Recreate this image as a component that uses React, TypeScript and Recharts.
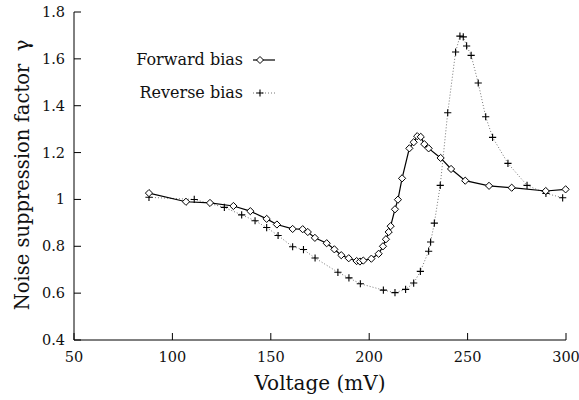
import React from 'react';
import { LineChart, Line, XAxis, YAxis, Legend } from 'recharts';

const forwardV = [88.1, 106.9, 119.1, 131, 139.6, 147.9, 153.1, 161.1, 166.2, 168.8, 172.4, 178.4, 182.3, 185.8, 189.6, 193.6, 195.3, 197, 201.1, 204.8, 207, 208.5, 209.9, 210.9, 213.1, 214.6, 216.7, 220.4, 222.6, 224.4, 226.2, 228, 230.2, 236.3, 241.6, 248.8, 260.9, 272.4, 289.7, 299.8];
const forwardG = [1.027, 0.99, 0.985, 0.972, 0.95, 0.917, 0.893, 0.874, 0.873, 0.861, 0.836, 0.813, 0.787, 0.762, 0.749, 0.737, 0.735, 0.739, 0.747, 0.768, 0.8, 0.83, 0.861, 0.886, 0.958, 0.999, 1.09, 1.218, 1.244, 1.27, 1.267, 1.236, 1.218, 1.177, 1.13, 1.08, 1.058, 1.05, 1.036, 1.043];

const reverseV = [88.1, 111.1, 126.4, 135.2, 142, 147.9, 153.7, 161.1, 166.6, 172.5, 184.1, 189.7, 195.5, 207.2, 213.1, 218.5, 222.6, 226, 230.2, 231.2, 233.1, 236.1, 239.9, 243.9, 246.1, 247.8, 249.5, 251.8, 255.4, 259.2, 262.7, 270.5, 280.2, 289.8, 298.3];
const reverseG = [1.009, 1.0, 0.966, 0.934, 0.909, 0.88, 0.846, 0.798, 0.786, 0.75, 0.689, 0.665, 0.64, 0.613, 0.602, 0.616, 0.643, 0.693, 0.779, 0.818, 0.899, 1.06, 1.37, 1.629, 1.697, 1.694, 1.655, 1.615, 1.497, 1.353, 1.265, 1.154, 1.06, 1.026, 1.007];

const xTicks = [50, 100, 150, 200, 250, 300];
const xInnerTicks = [100, 150, 200, 250];
const yTicks = [0.4, 0.6, 0.8, 1, 1.2, 1.4, 1.6, 1.8];
const yInnerTicks = [0.6, 0.8, 1, 1.2, 1.4, 1.6];
const seriesNames = ['Forward bias', 'Reverse bias'];

const forwardData = forwardV.map((v, i) => ({ v, g: forwardG[i] }));
const reverseData = reverseV.map((v, i) => ({ v, g: reverseG[i] }));

const FONT = '"DejaVu Serif", serif';
const TICK_LEN = 7;

const BottomTick = (props: any) => {
  const { x, y, payload } = props;
  return (
    <g>
      <line x1={x} x2={x} y1={y} y2={y - TICK_LEN} stroke="#000" strokeWidth={1} />
      <text x={x} y={y + 22} textAnchor="middle" fontFamily={FONT} fontSize={14.5} fill="#111">
        {payload.value}
      </text>
    </g>
  );
};

const TopTick = (props: any) => {
  const { x, y } = props;
  return <line x1={x} x2={x} y1={y} y2={y + TICK_LEN} stroke="#000" strokeWidth={1} />;
};

const LeftTick = (props: any) => {
  const { x, y, payload } = props;
  return (
    <g>
      <line x1={x} x2={x + TICK_LEN} y1={y} y2={y} stroke="#000" strokeWidth={1} />
      <text x={x - 9} y={y + 5} textAnchor="end" fontFamily={FONT} fontSize={14.5} fill="#111">
        {String(payload.value)}
      </text>
    </g>
  );
};

const RightTick = (props: any) => {
  const { x, y } = props;
  return <line x1={x} x2={x - TICK_LEN} y1={y} y2={y} stroke="#000" strokeWidth={1} />;
};

const Diamond = (props: any) => {
  const { cx, cy, index } = props;
  if (cx == null || cy == null) return <g key={`d-${index}`} />;
  const r = 3.6;
  return (
    <path
      key={`d-${index}`}
      d={`M${cx},${cy - r} L${cx + r},${cy} L${cx},${cy + r} L${cx - r},${cy} Z`}
      fill="#fff"
      stroke="#000"
      strokeWidth={1}
    />
  );
};

const Plus = (props: any) => {
  const { cx, cy, index } = props;
  if (cx == null || cy == null) return <g key={`p-${index}`} />;
  const r = 3.6;
  return (
    <path
      key={`p-${index}`}
      d={`M${cx - r},${cy} L${cx + r},${cy} M${cx},${cy - r} L${cx},${cy + r}`}
      stroke="#000"
      strokeWidth={1.1}
      fill="none"
    />
  );
};

const LegendBox = () => (
  <div style={{ fontFamily: FONT, fontSize: 16, color: '#111' }}>
    {seriesNames.map((name, i) => (
      <div key={name} style={{ display: 'flex', alignItems: 'center', height: 33 }}>
        <div style={{ width: 120, textAlign: 'right' }}>{name}</div>
        <svg width={32} height={12} style={{ marginLeft: 8 }}>
          {i === 0 ? (
            <g>
              <line x1={2} x2={24} y1={6} y2={6} stroke="#000" strokeWidth={1.2} />
              <path d="M9,2.5 L12.5,6 L9,9.5 L5.5,6 Z" fill="#fff" stroke="#000" strokeWidth={1} />
            </g>
          ) : (
            <g>
              <line x1={2} x2={24} y1={6} y2={6} stroke="#777" strokeWidth={1} strokeDasharray="1 2" />
              <path d="M5.5,6 L12.5,6 M9,2.5 L9,9.5" stroke="#000" strokeWidth={1.1} />
            </g>
          )}
        </svg>
      </div>
    ))}
  </div>
);

export default function App() {
  return (
    <div style={{ position: 'absolute', left: 0, top: 0, width: 579, height: 400, background: '#fff' }}>
      <LineChart width={579} height={400} margin={{ top: 12, right: 13, bottom: 0, left: 0 }}>
        <XAxis
          dataKey="v"
          type="number"
          domain={[50, 300]}
          ticks={xTicks}
          interval={0}
          height={60}
          tickSize={0}
          tickMargin={0}
          tickLine={false}
          tick={BottomTick}
          axisLine={{ stroke: '#000', strokeWidth: 1 }}
          label={{ value: 'Voltage (mV)', position: 'insideBottom', offset: 10, fontFamily: FONT, fontSize: 20, fill: '#111' }}
        />
        <XAxis
          xAxisId="top"
          orientation="top"
          dataKey="v"
          type="number"
          domain={[50, 300]}
          ticks={xInnerTicks}
          interval={0}
          height={0}
          tickSize={0}
          tickMargin={0}
          tickLine={false}
          tick={TopTick}
          axisLine={{ stroke: '#000', strokeWidth: 1 }}
        />
        <YAxis
          type="number"
          domain={[0.4, 1.8]}
          ticks={yTicks}
          interval={0}
          width={74}
          tickSize={0}
          tickMargin={0}
          tickLine={false}
          tick={LeftTick}
          axisLine={{ stroke: '#000', strokeWidth: 1 }}
          label={{ value: 'Noise suppression factor\u00A0\u00A0γ', angle: -90, position: 'center', dx: -15, dy: -1, fontFamily: FONT, fontSize: 19.5, fill: '#111' }}
        />
        <YAxis
          yAxisId="right"
          orientation="right"
          type="number"
          domain={[0.4, 1.8]}
          ticks={yInnerTicks}
          interval={0}
          width={0}
          tickSize={0}
          tickMargin={0}
          tickLine={false}
          tick={RightTick}
          axisLine={{ stroke: '#000', strokeWidth: 1 }}
        />
        <Legend
          layout="vertical"
          align="center"
          verticalAlign="middle"
          wrapperStyle={{ left: 123, top: 43, width: 170 }}
          content={() => <LegendBox />}
        />
        <Line
          data={reverseData}
          dataKey="g"
          name={seriesNames[1]}
          stroke="#777"
          strokeWidth={1}
          strokeDasharray="1 2"
          dot={Plus}
          activeDot={false}
          isAnimationActive={false}
        />
        <Line
          data={forwardData}
          dataKey="g"
          name={seriesNames[0]}
          stroke="#000"
          strokeWidth={1.2}
          dot={Diamond}
          activeDot={false}
          isAnimationActive={false}
        />
      </LineChart>
    </div>
  );
}
